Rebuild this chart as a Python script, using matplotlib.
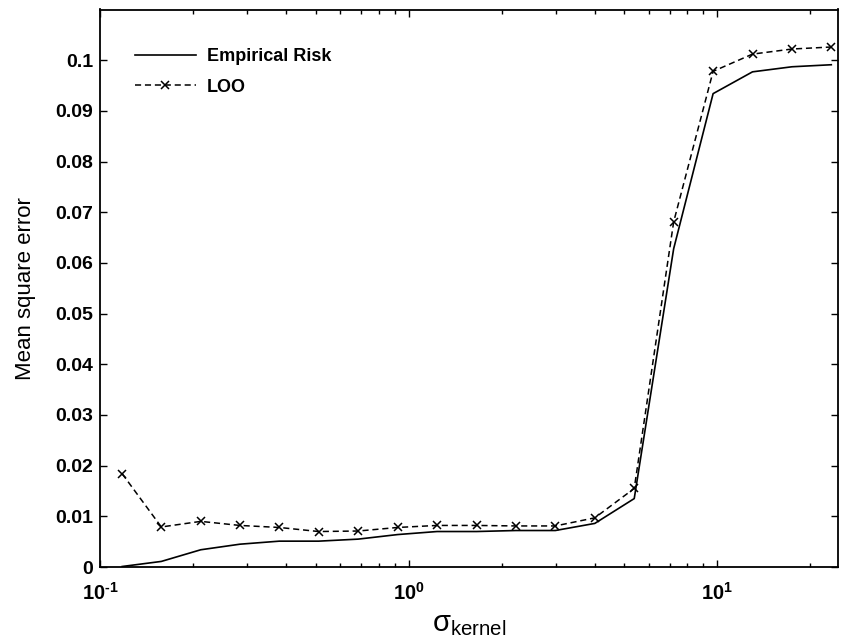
import matplotlib
matplotlib.use("Agg")
import matplotlib.pyplot as plt
from matplotlib.ticker import FixedLocator, LogLocator, NullFormatter

plt.rcParams['font.family'] = ['Liberation Sans', 'DejaVu Sans']
plt.rcParams['mathtext.fontset'] = 'custom'
plt.rcParams['mathtext.rm'] = 'Liberation Sans'
plt.rcParams['mathtext.bf'] = 'Liberation Sans:bold'
plt.rcParams['mathtext.it'] = 'Liberation Sans:italic'

# values
sigma = [0.118, 0.158, 0.212, 0.284, 0.381, 0.511, 0.686, 0.921, 1.236, 1.659,
         2.226, 2.987, 4.009, 5.38, 7.22, 9.69, 13.0, 17.45, 23.4]
empirical_risk = [0.0001, 0.0011, 0.0034, 0.0045, 0.0051, 0.0051, 0.0055, 0.0064, 0.0070, 0.0070,
                  0.0072, 0.0072, 0.0086, 0.0135, 0.0628, 0.0934, 0.0977, 0.0987, 0.0991]
loo = [0.0184, 0.0079, 0.0090, 0.0082, 0.0078, 0.0070, 0.0071, 0.0078, 0.0082, 0.0082,
       0.0081, 0.0081, 0.0097, 0.0155, 0.0681, 0.0978, 0.1012, 0.1022, 0.1026]

y_ticks = [0, 0.01, 0.02, 0.03, 0.04, 0.05, 0.06, 0.07, 0.08, 0.09, 0.1]
y_labels = ['0', '0.01', '0.02', '0.03', '0.04', '0.05', '0.06', '0.07', '0.08', '0.09', '0.1']
x_ticks = [0.1, 1, 10]
x_labels = ['$\\mathbf{10^{\u2010 1}}$', r'$\mathbf{10^{0}}$', r'$\mathbf{10^{1}}$']

fig = plt.figure(figsize=(8.43, 6.42), dpi=100)
ax = fig.add_axes([100 / 843, 75 / 642, 738 / 843, 557.5 / 642])

ax.plot(sigma, empirical_risk, '-', color='black', lw=1.2, label='Empirical Risk')
ax.plot(sigma, loo, '--', color='black', lw=1.1, dashes=(4, 2.5),
        marker='x', ms=6, mew=1.1, label='LOO')

ax.set_xscale('log')
ax.set_xlim(0.1, 24.6)
ax.set_ylim(0, 0.11)

ax.set_yticks(y_ticks)
ax.set_yticklabels(y_labels, fontweight='bold', fontsize=14)
ax.xaxis.set_major_locator(FixedLocator(x_ticks))
ax.set_xticklabels(x_labels, fontsize=14.5)
ax.xaxis.set_minor_locator(LogLocator(base=10, subs=range(2, 10)))
ax.xaxis.set_minor_formatter(NullFormatter())

ax.tick_params(which='both', direction='in', top=True, right=True, width=1)
ax.tick_params(which='major', length=5)
ax.tick_params(axis='y', pad=5)
ax.tick_params(axis='x', pad=11)
ax.tick_params(which='minor', length=3)
for s in ax.spines.values():
    s.set_linewidth(1.3)

ax.set_ylabel('Mean square error', fontsize=16, labelpad=14)
ax.set_xlabel(r'$\mathregular{σ_{kernel}}$', fontsize=21, labelpad=4)

leg = ax.legend(loc='upper left', bbox_to_anchor=(0.025, 0.96), frameon=False,
                handlelength=3.4, handletextpad=0.6, labelspacing=0.75,
                numpoints=1, prop={'weight': 'bold', 'size': 13})

fig.savefig('out.png', dpi=100)
